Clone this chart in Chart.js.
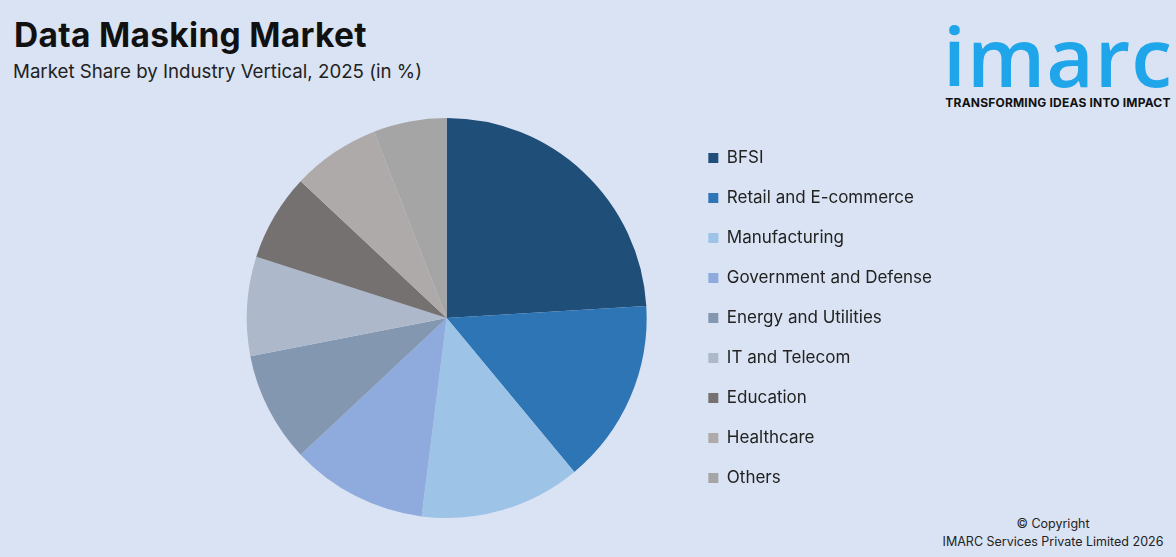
<!DOCTYPE html>
<html>
<head>
<meta charset="utf-8">
<script src="https://cdn.jsdelivr.net/npm/chart.js@4.4.0/dist/chart.umd.min.js"></script>
<style>
  body { margin: 0; width: 1176px; height: 557px; background: #dae3f3; position: relative; overflow: hidden; font-family: "Inter", "Open Sans", sans-serif; }
  #title { position: absolute; left: 14px; top: 15px; font-size: 33.5px; font-weight: 700; color: #111; letter-spacing: 0.3px; }
  #subtitle { position: absolute; left: 13px; top: 60px; font-size: 18.7px; color: #222; }
  #logo { position: absolute; left: 940px; top: 0px; width: 236px; text-align: center; }
  #logo .word { font-family: "Open Sans", sans-serif; font-weight: 600; font-size: 82px; color: #1ea5ea; line-height: 82px; margin-top: 14px; letter-spacing: 1px; }
  #logo .tag { font-size: 12px; font-weight: 700; color: #111; margin-top: -1px; letter-spacing: 0.2px; }
  #copy { position: absolute; left: 940px; top: 515px; width: 226px; text-align: center; font-size: 12.5px; color: #222; line-height: 18px; }
  #wrap { position: absolute; left: 0; top: 108px; width: 942px; height: 420px; }
</style>
</head>
<body>
<div id="title">Data Masking Market</div>
<div id="subtitle">Market Share by Industry Vertical, 2025 (in %)</div>
<div id="logo"><div class="word">imarc</div><div class="tag">TRANSFORMING IDEAS INTO IMPACT</div></div>
<div id="copy">© Copyright<br>IMARC Services Private Limited 2026</div>
<div id="wrap"><canvas id="pieChart"></canvas></div>
<script>
const categories = ['BFSI', 'Retail and E-commerce', 'Manufacturing', 'Government and Defense',
    'Energy and Utilities', 'IT and Telecom', 'Education', 'Healthcare', 'Others'];
const shares = [24.0, 14.9, 13.0, 11.0, 8.9, 8.0, 7.0, 7.1, 5.9];
const colors = ['#1f4e79', '#2e75b6', '#9dc3e6', '#8faadc', '#8497b0', '#adb9ca', '#767171', '#aeaaaa', '#a5a5a5'];

let ctx = document.getElementById('pieChart').getContext('2d');

var data = {
    labels: categories,
    datasets: [
        {
            data: shares,
            backgroundColor: colors,
            borderWidth: 0
        }
    ]
};

var options = {
    maintainAspectRatio: false,
    responsive: true,
    animation: false,
    layout: {
        padding: { left: 208, right: 0, top: 10, bottom: 10 }
    },
    plugins: {
        tooltip: { enabled: false },
        legend: {
            position: 'right',
            labels: {
                boxWidth: 10,
                boxHeight: 10,
                padding: 23,
                color: '#222',
                font: { family: 'Inter', size: 17 }
            }
        }
    }
};

let chart = new Chart(ctx, {
    type: 'pie',
    data: data,
    options: options
});
</script>
</body>
</html>
